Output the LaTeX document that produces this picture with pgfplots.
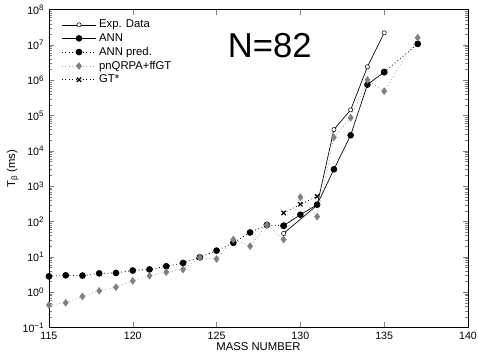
\documentclass[border=0pt]{standalone}
\usepackage{pgfplots}
\pgfplotsset{compat=1.18}
\usepackage{fontspec}
\setmainfont{Liberation Sans}
\definecolor{qrpa}{RGB}{128,128,128}

\begin{document}
\begin{tikzpicture}
\path[use as bounding box] (-36.75pt,-23.25pt) rectangle (322.3pt,246pt);
\begin{axis}[
    at={(0,0)}, anchor=south west,
    scale only axis,
    width=314.8pt, height=238.8pt,
    ymode=log,
    xmin=115, xmax=140,
    ymin=1e-1, ymax=1e8,
    xtick={115,120,...,140},
    ytick={1e-1,1e0,1e1,1e2,1e3,1e4,1e5,1e6,1e7,1e8},
    yticklabels={10\textsuperscript{−1},10\textsuperscript{0},10\textsuperscript{1},10\textsuperscript{2},10\textsuperscript{3},10\textsuperscript{4},10\textsuperscript{5},10\textsuperscript{6},10\textsuperscript{7},10\textsuperscript{8}},
    /pgf/number format/assume math mode=true,
    tick label style={font=\fontsize{8}{9}\selectfont},
    xlabel={MASS NUMBER},
    ylabel={T\textsubscript{β} (ms)},
    label style={font=\fontsize{8.5}{10}\selectfont},
    xlabel style={yshift=5pt},
    ylabel style={yshift=-4pt},
    axis line style={black, line width=0.6pt},
    major tick length=4pt, minor tick length=2pt,
    legend style={draw=none, fill=none, font=\fontsize{8.5}{10}\selectfont,
        at={(0.02,0.985)}, anchor=north west, row sep=-1.2pt,
        cells={anchor=west}},
    legend image code/.code={\draw[mark repeat=2,mark phase=2] plot coordinates {(0cm,0cm) (0.45cm,0cm) (0.9cm,0cm)};},
]
\addplot[black, line width=0.5pt, mark=*, mark size=1.6pt, mark options={fill=white, line width=0.4pt}]
coordinates {(129,46) (131,290) (132,40000) (133,145000) (134,2.4e6) (135,2.2e7)};
\addlegendentry{Exp. Data}
\addplot[black, line width=0.5pt, mark=*, mark size=2.2pt]
coordinates {(129,76) (130,156) (131,300) (132,3000) (133,27700) (134,7.5e5) (135,1.7e6)};
\addlegendentry{ANN}
\addplot[black, dotted, line width=0.6pt, mark=*, mark size=2.2pt, mark options={solid}]
coordinates {(115,2.8) (116,3.0) (117,2.95) (118,3.4) (119,3.5) (120,4.1) (121,4.4) (122,5.4) (123,6.7) (124,9.7) (125,15) (126,25) (127,49) (128,80) (129,76)};
\addlegendentry{ANN pred.}
\addplot[black, dotted, line width=0.6pt, mark=*, mark size=2.2pt, mark options={solid}, forget plot]
coordinates {(135,1.7e6) (137,1.07e7)};
\addplot[qrpa!75, dotted, line width=0.6pt, mark=diamond*, mark size=2.4pt, mark options={solid, fill=qrpa, draw=qrpa}]
coordinates {(115,0.43) (116,0.50) (117,0.76) (118,1.09) (119,1.38) (120,2.08) (121,2.9) (122,3.7) (123,4.4) (124,9.6) (125,8.7) (126,31) (127,20) (128,80) (129,31) (130,490) (131,138) (132,24000) (133,86000) (134,1.02e6) (135,4.9e5) (137,1.6e7)};
\addlegendentry{pnQRPA+ffGT}
\addplot[black, dotted, line width=0.6pt, mark=x, mark size=2.3pt, mark options={solid, line width=0.9pt}]
coordinates {(129,175) (130,308) (131,515)};
\addlegendentry{GT*}
\node[font=\fontsize{26}{30}\selectfont] at (rel axis cs:0.527,0.888) {N=82};
\end{axis}
\end{tikzpicture}
\end{document}
